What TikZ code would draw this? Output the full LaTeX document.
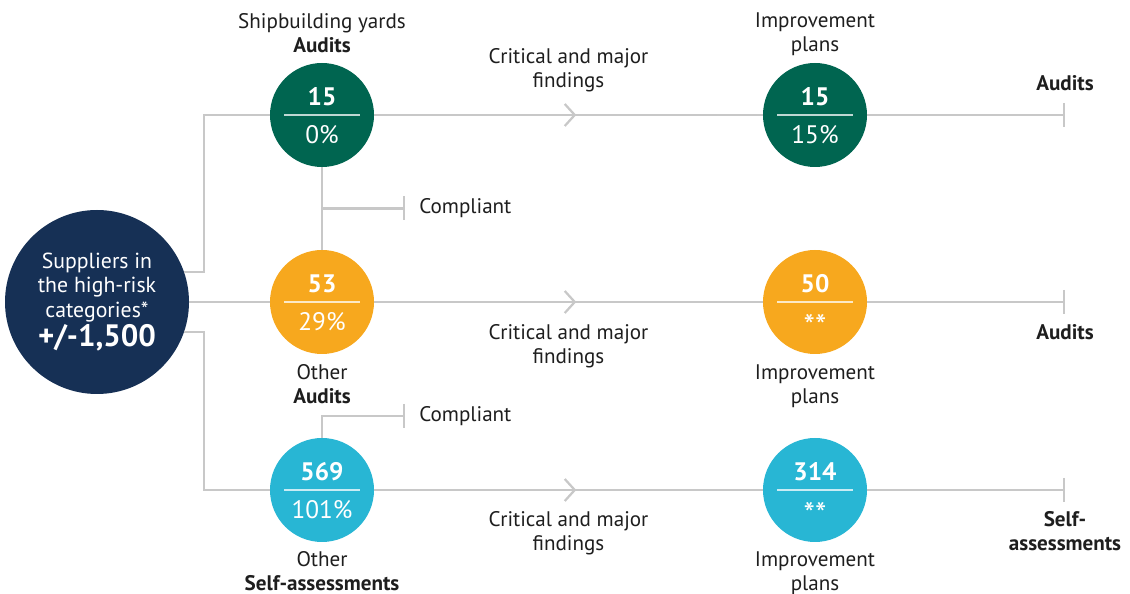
\documentclass[tikz,border=0pt]{standalone}
\usepackage{fontspec}
\setmainfont{PT Sans}
\usetikzlibrary{positioning}
\usetikzlibrary{calc}
\usetikzlibrary{arrows.meta}
\usetikzlibrary{decorations.markings}
\definecolor{navy}{HTML}{163055}
\definecolor{pine}{HTML}{006550}
\definecolor{amber}{HTML}{F7A81E}
\definecolor{sky}{HTML}{28B6D4}
\definecolor{wiregray}{HTML}{C8C8C8}
\definecolor{ink}{HTML}{1E1E1E}
\tikzset{stat/.style={circle, minimum size=2.6cm, inner sep=0pt, fill=#1}}
\tikzset{wire/.style={draw=wiregray, line width=1.6pt}}
\tikzset{tickend/.style={-{Bar[width=0.6cm]}}}
\tikzset{divline/.style={draw=white, opacity=0.75, line width=0.9pt}}
\tikzset{lbl/.style={align=center, inner sep=0pt, text=ink, font=\fontsize{15}{17}\selectfont}}
\tikzset{num/.style={anchor=base, inner sep=0pt, text=white, font=\fontsize{18}{20}\selectfont\bfseries}}
\tikzset{pct/.style={anchor=base, inner sep=0pt, text=white, font=\fontsize{18}{20}\selectfont}}
\tikzset{stars/.style={anchor=base, inner sep=0pt, text=white, font=\fontsize{23}{24}\selectfont}}
\tikzset{->-/.style={decoration={
      markings,
      mark=at position #1 with {\arrow{Straight Barb[length=0.25cm,width=0.55cm]}}},postaction={decorate}}}

\begin{document}
\begin{tikzpicture}
\useasboundingbox (0,0) rectangle (28.25,-14.85);
\begin{scope}[on grid]

\node[stat=navy, minimum size=4.6cm, text=white, align=center, font=\fontsize{15.5}{17.4}\selectfont] (S) at (2.425,-7.55)
  {Suppliers in\\the high-risk\\categories*\\[1pt]{\fontsize{22}{24}\selectfont\bfseries +/-1,500}};

\node[stat=pine] (a1) at (8.05,-2.875) {};
\node[stat=amber] (b1) [below = 4.675 of a1] {};
\node[stat=sky] (c1) [below = 4.7 of b1] {};

\node[stat=pine] (a2) [right = 12.325 of a1] {};
\node[stat=amber] (b2) [right = 12.325 of b1] {};
\node[stat=sky] (c2) [right = 12.325 of c1] {};
\end{scope}

\coordinate (e1) at (26.625,-2.875);
\coordinate (e2) at (26.625,-7.55);
\coordinate (e3) at (26.625,-12.25);

\coordinate (j1) at ($(a1.south)!0.5!(b1.north)$);
\coordinate (t1) at ($(j1)+(2.075,0)$);
\coordinate (t2) at (10.125,-10.4);

% circle contents
\node[num] (a1n) at ([yshift=0.24cm]a1.center) {15};
\node[pct] (a1p) at ([yshift=-0.71cm]a1.center) {0\%};
\node[num] (b1n) at ([yshift=0.24cm]b1.center) {53};
\node[pct] (b1p) at ([yshift=-0.71cm]b1.center) {29\%};
\node[num] (c1n) at ([yshift=0.24cm]c1.center) {569};
\node[pct] (c1p) at ([yshift=-0.71cm]c1.center) {101\%};
\node[num] (a2n) at ([yshift=0.24cm]a2.center) {15};
\node[pct] (a2p) at ([yshift=-0.71cm]a2.center) {15\%};
\node[num] (b2n) at ([yshift=0.24cm]b2.center) {50};
\node[stars] (b2p) at ([yshift=-0.88cm]b2.center) {**};
\node[num] (c2n) at ([yshift=0.24cm]c2.center) {314};
\node[stars] (c2p) at ([yshift=-0.88cm]c2.center) {**};

\draw[divline] ([xshift=-0.95cm]a1.center) -- ([xshift=0.95cm]a1.center);
\draw[divline] ([xshift=-0.95cm]b1.center) -- ([xshift=0.95cm]b1.center);
\draw[divline] ([xshift=-0.95cm]c1.center) -- ([xshift=0.95cm]c1.center);
\draw[divline] ([xshift=-0.95cm]a2.center) -- ([xshift=0.95cm]a2.center);
\draw[divline] ([xshift=-0.95cm]b2.center) -- ([xshift=0.95cm]b2.center);
\draw[divline] ([xshift=-0.95cm]c2.center) -- ([xshift=0.95cm]c2.center);

% labels
\node[lbl] (a1l) [above = 0.25 of a1] {Shipbuilding yards\\\textbf{Audits}};
\node[lbl] (b1l) [below = 0.25 of b1] {Other\\\textbf{Audits}};
\node[lbl] (c1l) [below = 0.22 of c1] {Other\\\textbf{Self-assessments}};
\node[lbl] (a2l) [above = 0.18 of a2] {Improvement\\plans};
\node[lbl] (b2l) [below = 0.25 of b2] {Improvement\\plans};
\node[lbl] (c2l) [below = 0.22 of c2] {Improvement\\plans};
\node[lbl] (e1l) [above = 0.6 of e1] {\textbf{Audits}};
\node[lbl] (e2l) [below = 0.55 of e2] {\textbf{Audits}};
\node[lbl] (e3l) [below = 0.53 of e3] {\textbf{Self-}\\\textbf{assessments}};
\node[lbl] (t1l) [right = 0.35 of t1] {Compliant};
\node[lbl] (t2l) [right = 0.35 of t2] {Compliant};

% connectors
\draw[wire] (S.19) -- ++(0.5,0) |- (a1);
\draw[wire] (S) -- (b1);
\draw[wire] (S.-19) -- ++(0.5,0) |- (c1);

\draw[wire] (a1) -- (b1);
\draw[wire, tickend] (j1) -- (t1);
\draw[wire, tickend] (c1) |- (t2);

\draw[wire, ->-=0.52] (a1) -- node[lbl, midway, above=0.55] (a12) {Critical and major\\findings} (a2);
\draw[wire, ->-=0.52] (b1) -- node[lbl, midway, below=0.53] (b12) {Critical and major\\findings} (b2);
\draw[wire, ->-=0.52] (c1) -- node[lbl, midway, below=0.5] (c12) {Critical and major\\findings} (c2);

\draw[wire, tickend] (a2) -- (e1);
\draw[wire, tickend] (b2) -- (e2);
\draw[wire, tickend] (c2) -- (e3);
\end{tikzpicture}
\end{document}
